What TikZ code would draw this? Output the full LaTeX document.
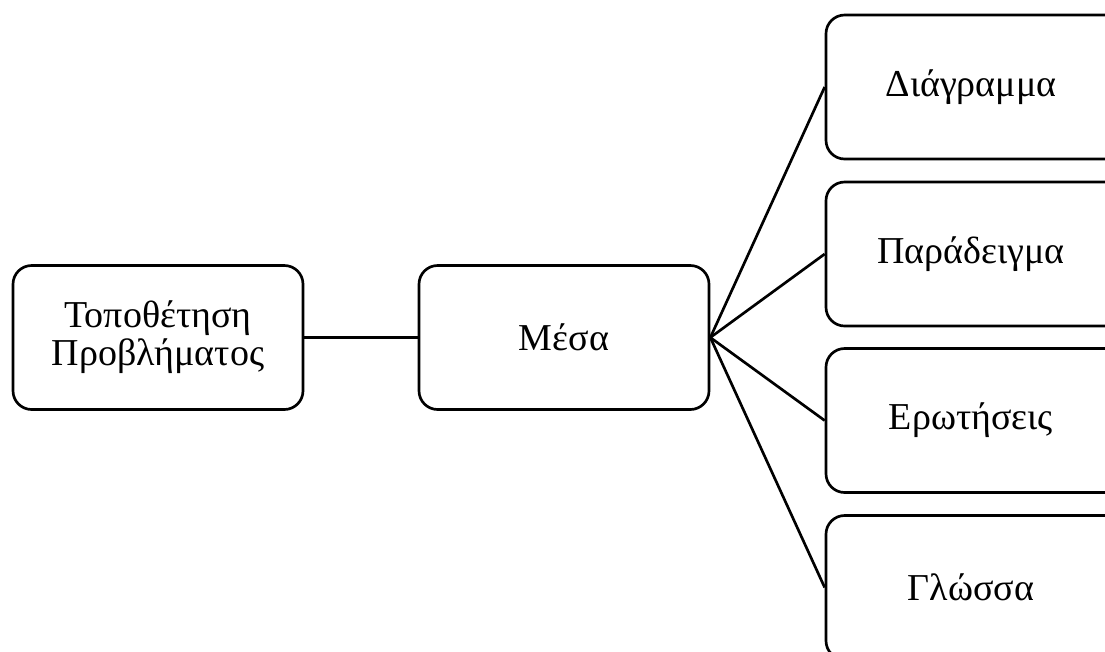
\documentclass[tikz,border=0pt]{standalone}
\usepackage{fontspec}
\setmainfont{Liberation Serif}
\tikzset{
  box/.style={draw, line width=2pt, rounded corners=14pt,
    minimum width=217.5pt, minimum height=108pt, align=center,
    font=\fontsize{28.5}{28.5}\selectfont},
  sidebox/.style={box, minimum width=240pt,
    execute at end node={\hspace*{22.5pt}}}
}
\begin{document}
\begin{tikzpicture}[x=0.75pt,y=-0.75pt]
      \clip (0,0) rectangle (1105,651);
      \draw
        (158,337.5) node[box] (problem){Τοποθέτηση\\Προβλήματος}
        (564,337.5) node[box] (means){Μέσα}
        (986,87) node[sidebox] (diagram){Διάγραμμα}
        (986,254) node[sidebox] (example){Παράδειγμα}
        (986,420.5) node[sidebox] (questions){Ερωτήσεις}
        (986,587.5) node[sidebox] (language){Γλώσσα};
      \begin{scope}[-, line width=2pt]
        \draw (problem) to (means);
        \draw (means.east) to (diagram.west);
        \draw (means.east) to (example.west);
        \draw (means.east) to (questions.west);
        \draw (means.east) to (language.west);
      \end{scope}
    \end{tikzpicture}
\end{document}
